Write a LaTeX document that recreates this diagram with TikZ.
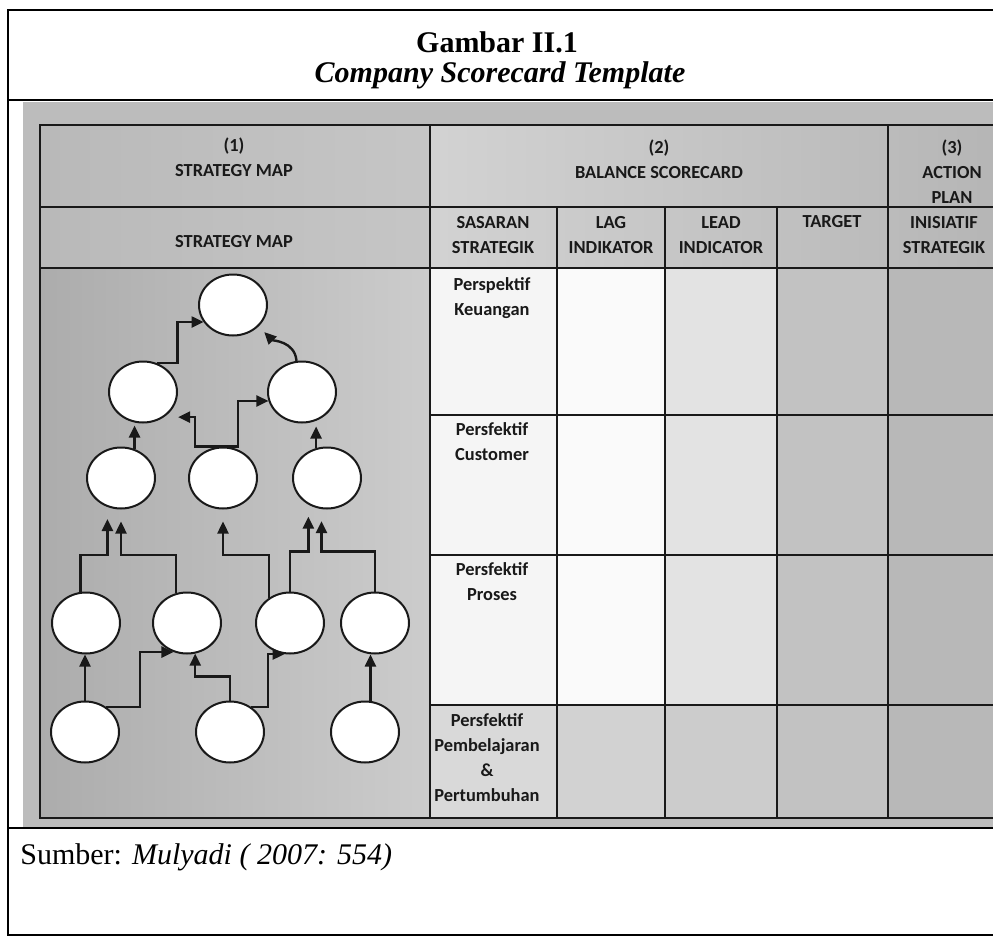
\documentclass[tikz,border=0pt]{standalone}
\usepackage{fontspec}
\setmainfont{Liberation Serif}
\newfontfamily\tabfont{Carlito}
\usetikzlibrary{arrows.meta,shapes.geometric}
\definecolor{ink}{RGB}{25,25,25}
\definecolor{scan}{RGB}{188,188,188}
\tikzset{
  >={Triangle[length=6pt,width=5.5pt]},
  frame/.style={draw=black,line width=1.2pt},
  rule/.style={draw=ink,line width=1.1pt},
  cell/.style={fill=gray!#1,draw=none},
  goal/.style={ellipse,draw=ink,fill=white,line width=1pt,
    minimum width=34pt,minimum height=30.5pt,inner sep=0pt},
  link/.style={->,line width=1.2pt,draw=ink},
  hdr/.style={font=\tabfont\bfseries\fontsize{9.2}{12.5}\selectfont,
    align=center,inner sep=0pt,text=ink},
}

\begin{document}
\begin{tikzpicture}[x=0.5pt,y=-0.5pt]
    \useasboundingbox (0,0) rectangle (993,938);
    \clip (0,0) rectangle (993,938);
    % scanned table
    \fill[scan] (23,102) rectangle (1005,828);
    \shade[left color=gray!55,right color=gray!45] (40,125) rectangle (430,268);
    \shade[left color=gray!35,right color=gray!58] (430,125) rectangle (1005,268);
    \shade[left color=gray!65,right color=gray!40] (40,268) rectangle (430,818);
    \foreach \xa/\xb/\ya/\yb/\g in {430/557/268/705/8, 430/557/705/818/30,
      557/665/268/705/4, 557/665/705/818/35, 665/777/268/705/22, 665/777/705/818/40,
      777/888/268/818/48, 888/1005/268/818/56}
      \fill[cell=\g] (\xa,\ya) rectangle (\xb,\yb);
    \draw[rule] (40,125) rectangle (1005,818);
    \foreach \y in {207,268} \draw[rule] (40,\y) -- (1005,\y);
    \foreach \y in {415,555,705} \draw[rule] (430,\y) -- (1005,\y);
    \foreach \x in {430,888} \draw[rule] (\x,125) -- (\x,818);
    \foreach \x in {557,665,777} \draw[rule] (\x,207) -- (\x,818);

    \node[hdr] (h1) at (234,157) {(1)\\STRATEGY MAP};
    \node[hdr] (h2) at (659,159) {(2)\\BALANCE SCORECARD};
    \node[hdr] (h3) at (952,172) {(3)\\ACTION\\PLAN};
    \node[hdr] (s0) at (234,242) {STRATEGY MAP};
    \node[hdr] (s1) at (493,235) {SASARAN\\STRATEGIK};
    \node[hdr] (s2) at (611,235) {LAG\\INDIKATOR};
    \node[hdr] (s3) at (721,235) {LEAD\\INDICATOR};
    \node[hdr] (s4) at (832,222) {TARGET};
    \node[hdr] (s5) at (944,235) {INISIATIF\\STRATEGIK};
    \node[hdr] (p1) at (492,298) {Perspektif\\Keuangan};
    \node[hdr] (p2) at (492,442) {Persfektif\\Customer};
    \node[hdr] (p3) at (492,582) {Persfektif\\Proses};
    \node[hdr] (p4) at (487,758) {Persfektif\\Pembelajaran\\\&\\Pertumbuhan};

    % strategy map
    \foreach \n/\x/\y in {t/233/305, a1/143/392, a2/302/392,
      b1/121/478, b2/223/478, b3/327/478,
      c1/86/623, c2/187/623, c3/290/623, c4/375/623,
      d1/85/732, d2/230/732, d3/365/732}
      \node[goal] (\n) at (\x,\y) {};

    \draw[link] (a1.65) -- ++(21,0) |- (t.210);
    \draw[link,shorten >=4pt] (a2.100) to[out=95,in=-45] (t.-40);
    \draw[link,shorten >=1pt] (b1.65) -- (b1.65 |- a1.south);
    \draw[link,shorten >=7pt] (b2.north) -- ++(-28,0) |- (a1.-50);
    \draw[link] (b2.north) -- ++(15,0) |- (a2.195);
    \draw[link,shorten >=1.5pt] (b3.110) -- (b3.110 |- a2.south);

    \draw[link,shorten >=6pt] (c1.100) -- ++(0,-37) -| (b1.-115);
    \draw[link,shorten >=6pt] (c2.110) -- ++(0,-38) -| (b1.-90);
    \draw[link,shorten >=6pt] (c3.130) -- ++(0,-43) -| (b2.south);
    \draw[link,shorten >=6pt] (c3.north) -- ++(0,-40) -| (b3.-125);
    \draw[link,shorten >=6pt] (c4.north) -- ++(0,-40) -| (b3.-100);

    \draw[link] (d1.north) -- (d1.north |- c1.south);
    \draw[link] (d1.50) -- ++(34,0) |- (c2.-115);
    \draw[link] (d2.north) -- ++(0,-24) -| (c2.-75);
    \draw[link] (d2.50) -- ++(17,0) |- (c3.-100);
    \draw[link] (d3.80) -- (d3.80 |- c4.south);

    % frame and captions
    \fill[white] (0,0) rectangle (993,102);
    \fill[white] (0,828) rectangle (993,938);
    \fill[white] (0,0) rectangle (23,938);
    \draw[frame] (993,10) -- (8,10) -- (8,935) -- (993,935);
    \draw[frame] (8,100) -- (993,100);
    \draw[frame] (8,828) -- (993,828);
    \node[font=\bfseries\fontsize{15}{18}\selectfont] (ttl) at (497,42) {Gambar II.1};
    \node[font=\bfseries\itshape\fontsize{15}{18}\selectfont] (sub) at (500,75) {Company Scorecard Template};
    \node[anchor=west,inner sep=0pt,font=\fontsize{15}{18}\selectfont] (src) at (20,857) {Sumber: \textit{Mulyadi ( 2007: 554)}};
\end{tikzpicture}
\end{document}
